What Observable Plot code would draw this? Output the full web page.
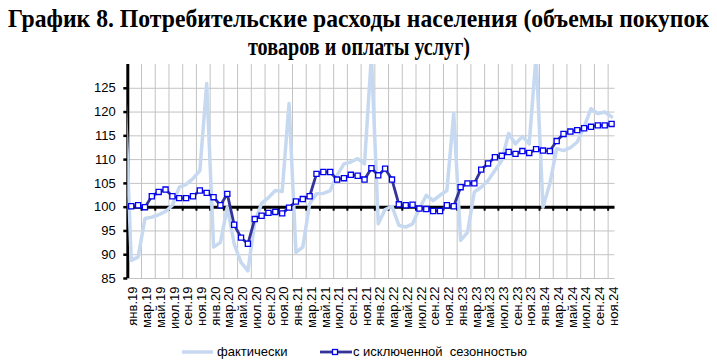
<!DOCTYPE html>
<html>
<head>
<meta charset="utf-8">
<script src="https://cdn.jsdelivr.net/npm/d3@7"></script>
<script src="https://cdn.jsdelivr.net/npm/@observablehq/plot@0.6"></script>
<style>
  body { margin: 0; width: 717px; height: 363px; position: relative; background: #fff; overflow: hidden; }
  .leg { position: absolute; font-family: "Liberation Sans", Arial, sans-serif; font-size: 13px; color: #000; white-space: pre; line-height: 16px; }
</style>
</head>
<body>
<svg id="title" width="717" height="62" style="position:absolute;left:0;top:0">
  <g transform="scale(1,1.11)">
    <text x="358.5" y="24.3" text-anchor="middle" font-family="Liberation Serif" font-weight="bold" font-size="22" textLength="701" lengthAdjust="spacingAndGlyphs" fill="#000">График 8. Потребительские расходы населения (объемы покупок</text>
    <text x="359" y="49.5" text-anchor="middle" font-family="Liberation Serif" font-weight="bold" font-size="22" textLength="222" lengthAdjust="spacingAndGlyphs" fill="#000">товаров и оплаты услуг)</text>
  </g>
</svg>
<div id="chart" style="position:absolute;left:0;top:62px"></div>
<svg style="position:absolute;left:180px;top:344px" width="36" height="16"><line x1="2" y1="8" x2="33" y2="8" stroke="#c6d9f1" stroke-width="3.5"/></svg>
<div class="leg" style="left:217px;top:344px">фактически</div>
<svg style="position:absolute;left:318px;top:344px" width="36" height="16"><line x1="2" y1="8" x2="34" y2="8" stroke="#333399" stroke-width="2.8"/><rect x="14.5" y="5.5" width="5" height="5" fill="#fff" stroke="#0000ee" stroke-width="1.3"/></svg>
<div class="leg" style="left:353px;top:344px">с исключенной  сезонностью</div>
<script>
// Tick labels (every second month, Jan 2019 .. Nov 2024)
const tickLabels = [
  "янв.19","мар.19","май.19","июл.19","сен.19","ноя.19",
  "янв.20","мар.20","май.20","июл.20","сен.20","ноя.20",
  "янв.21","мар.21","май.21","июл.21","сен.21","ноя.21",
  "янв.22","мар.22","май.22","июл.22","сен.22","ноя.22",
  "янв.23","мар.23","май.23","июл.23","сен.23","ноя.23",
  "янв.24","мар.24","май.24","июл.24","сен.24","ноя.24"
];
const yTicks = [85, 90, 95, 100, 105, 110, 115, 120, 125];

// "фактически" (actual), Jan 2019 .. Nov 2024
const actualDec2018 = 127;
const actual = [
  88.8, 89.5, 97.6, 97.9, 98.4, 99.1, 100.4, 104.2, 104.8, 106.0, 107.7, 126.0,
  91.6, 92.6, 100.0, 92.3, 88.4, 86.6, 96.8, 100.8, 102.0, 103.5, 103.3, 121.8,
  90.5, 91.6, 100.7, 102.8, 102.9, 103.5, 106.7, 109.1, 109.5, 110.2, 109.1, 132.0,
  96.5, 99.5, 100.2, 96.2, 95.8, 96.5, 99.7, 102.5, 101.4, 102.5, 103.5, 119.7,
  93.0, 94.7, 103.2, 104.2, 105.6, 107.7, 109.8, 115.5, 113.3, 114.9, 113.3, 132.0,
  100.0, 104.9, 112.3, 111.9, 112.5, 113.7, 116.9, 120.7, 119.7, 120.0, 119.0
];
// "с исключенной сезонностью" (seasonally adjusted), Jan 2019 .. Nov 2024
const seasonal = [
  100.2, 100.4, 100.0, 102.3, 103.2, 103.7, 102.3, 101.9, 101.9, 102.3, 103.5, 103.0,
  102.1, 100.4, 102.8, 96.3, 93.6, 92.3, 97.5, 98.2, 98.8, 99.0, 98.7, 99.9,
  101.2, 101.7, 102.3, 107.0, 107.4, 107.4, 105.8, 106.1, 106.8, 106.6, 105.8, 108.2,
  106.7, 108.1, 105.8, 100.6, 100.4, 100.5, 99.7, 99.6, 99.2, 99.2, 100.4, 100.2,
  104.2, 105.0, 105.0, 107.9, 109.2, 110.5, 110.8, 111.6, 111.2, 111.8, 111.4, 112.2,
  111.9, 111.8, 113.9, 115.4, 115.9, 116.2, 116.6, 116.9, 117.2, 117.2, 117.5
];

const actualData = [{i: -1, v: actualDec2018}, ...actual.map((v, i) => ({i, v}))];
const saData = seasonal.map((v, i) => ({i, v}));
const labelData = tickLabels.map((t, k) => ({i: k * 2, t}));
const gridX = d3.range(1, 70, 2).map(i => i + 0.5);

const chart = Plot.plot({
  width: 717,
  height: 272,
  marginTop: 2,
  marginLeft: 127.3,
  marginRight: 102.5,
  marginBottom: 56,
  x: {type: "linear", domain: [-0.5, 70.5], axis: null},
  y: {domain: [85, 130], axis: null},
  style: {fontFamily: "'Liberation Sans', Arial, sans-serif", fontSize: "13px", color: "#000", background: "#fff"},
  marks: [
    Plot.ruleY(yTicks, {stroke: "#c3c3c3", strokeWidth: 1}),
    Plot.ruleX(gridX, {stroke: "#c3c3c3", strokeWidth: 1}),
    Plot.ruleY([100], {stroke: "#000", strokeWidth: 3}),
    Plot.ruleX(gridX, {y1: 100, y2: 99.15, stroke: "#000", strokeWidth: 2}),
    Plot.ruleX([-0.5], {stroke: "#000", strokeWidth: 3}),
    Plot.axisY(yTicks, {tickSize: 4, strokeWidth: 2.5, tickPadding: 8, fontSize: 13, label: null, fill: "#000"}),
    Plot.text(labelData, {x: "i", y: 85, text: "t", rotate: -90, textAnchor: "end", lineAnchor: "middle", dx: 2, dy: 8, fontSize: 13, fill: "#000"}),
    Plot.line(actualData, {x: "i", y: "v", stroke: "#c6d9f1", strokeWidth: 3.5, clip: true}),
    Plot.line(saData, {x: "i", y: "v", stroke: "#333399", strokeWidth: 2.8}),
    Plot.dot(saData, {x: "i", y: "v", symbol: "square", r: 2.9, fill: "#fff", stroke: "#0000ee", strokeWidth: 1.3})
  ]
});
document.getElementById("chart").appendChild(chart);
</script>
</body>
</html>
